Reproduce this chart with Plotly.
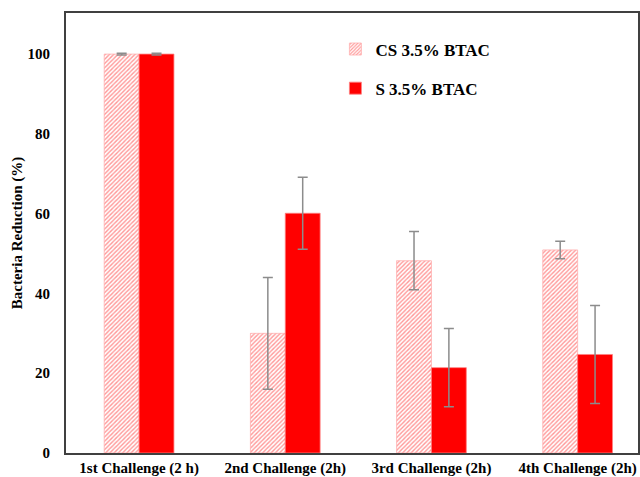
import plotly.graph_objects as go

categories = ["1st Challenge (2 h)", "2nd Challenge (2h)", "3rd Challenge (2h)", "4th Challenge (2h)"]
cs_values = [100.0, 30.0, 48.2, 50.9]
cs_errors = [0.2, 14.0, 7.3, 2.2]
s_values = [100.0, 60.1, 21.4, 24.7]
s_errors = [0.2, 9.0, 9.8, 12.3]
series_names = ["CS 3.5% BTAC", "S 3.5% BTAC"]
y_ticks = [0, 20, 40, 60, 80, 100]

FONT = "Liberation Serif, Times New Roman, serif"
err_style = dict(type="data", thickness=1.5, width=5, color="#8c8c8c")

fig = go.Figure()
fig.add_trace(go.Bar(
    x=categories, y=cs_values, name=series_names[0],
    error_y=dict(array=cs_errors, **err_style),
    marker=dict(
        color="#ffffff",
        line=dict(color="#ffb0b0", width=0.8),
        pattern=dict(shape="/", fgcolor="#ff3030", bgcolor="#ffffff",
                     size=3, solidity=0.45, fillmode="overlay"),
    ),
    legendgroup="a",
))
fig.add_trace(go.Bar(
    x=categories, y=s_values, name=series_names[1],
    error_y=dict(array=s_errors, **err_style),
    marker=dict(color="#ff0000", line=dict(color="#ff8080", width=0.8)),
    legendgroup="b",
))

fig.update_layout(
    width=640, height=477,
    margin=dict(l=66, r=0, t=13, b=24),
    paper_bgcolor="white", plot_bgcolor="white",
    barmode="group", bargap=0.523, bargroupgap=0,
    font=dict(family=FONT, color="#000000"),
    showlegend=True,
    legend=dict(
        x=0.471, y=0.958, xanchor="left", yanchor="top",
        font=dict(family=FONT, size=17, color="#000000", weight="bold"),
        bgcolor="rgba(0,0,0,0)", tracegroupgap=14,
        itemwidth=30,
    ),
    xaxis=dict(
        type="category", range=[-0.5, 3.413],
        showline=True, linecolor="#404040", linewidth=2, mirror=True,
        ticks="", showgrid=False,
        tickfont=dict(family=FONT, size=15, color="#000000", weight="bold"),
    ),
    yaxis=dict(
        range=[0, 110.3], tickvals=y_ticks,
        showline=True, linecolor="#404040", linewidth=2, mirror=True,
        ticks="", showgrid=False, zeroline=False,
        tickfont=dict(family=FONT, size=15, color="#000000", weight="bold"),
        ticklabelstandoff=11,
        title=dict(text="Bacteria Reduction (%)", standoff=1,
                   font=dict(family=FONT, size=15, color="#000000", weight="bold")),
    ),
)

fig.write_html("out.html")
